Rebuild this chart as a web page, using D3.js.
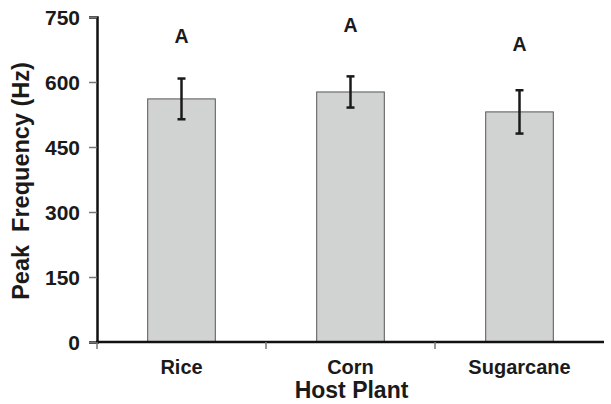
<!DOCTYPE html>
<meta charset="utf-8">
<style>
    body { margin: 0; background: #fff; }
    text { font-family: "Liberation Sans", Arial, sans-serif; font-weight: bold; fill: #1a1a1a; }
</style>
<body>
<script src="https://d3js.org/d3.v7.min.js"></script>
<script>
    // data
    const plants = ["Rice", "Corn", "Sugarcane"];
    const meanFreq = [561, 577, 531];
    const errFreq = [47, 36, 50];
    const letters = ["A", "A", "A"];
    const letterAt = [690, 716, 672];   // baseline of the group letter, in Hz
    const yTicks = [0, 150, 300, 450, 600, 750];

    const width = 611, height = 404;
    const margin = {top: 17, right: 7, bottom: 62, left: 97};

    const svg = d3.select("body").append("svg")
        .attr("width", width)
        .attr("height", height);

    const x = d3.scaleBand()
        .domain(plants)
        .range([margin.left, width - margin.right])
        .paddingInner(0.6)
        .paddingOuter(0.3);

    const y = d3.scaleLinear()
        .domain([0, 750])
        .range([height - margin.bottom, margin.top]);

    // bars
    svg.selectAll("rect.bar")
        .data(plants)
        .enter().append("rect")
        .attr("class", "bar")
        .attr("x", d => x(d))
        .attr("y", (d, i) => y(meanFreq[i]))
        .attr("width", x.bandwidth())
        .attr("height", (d, i) => y(0) - y(meanFreq[i]))
        .attr("fill", "#d1d2d2")
        .attr("stroke", "#555")
        .attr("stroke-width", 1);

    // error bars
    const err = svg.selectAll("g.err")
        .data(plants)
        .enter().append("g")
        .attr("class", "err")
        .attr("stroke", "#1a1a1a")
        .attr("stroke-width", 2.5);

    const cx = d => x(d) + x.bandwidth() / 2;
    err.append("line")
        .attr("x1", cx).attr("x2", cx)
        .attr("y1", (d, i) => y(meanFreq[i] + errFreq[i]))
        .attr("y2", (d, i) => y(meanFreq[i] - errFreq[i]));
    err.append("line")
        .attr("x1", d => cx(d) - 4).attr("x2", d => cx(d) + 4)
        .attr("y1", (d, i) => y(meanFreq[i] + errFreq[i]))
        .attr("y2", (d, i) => y(meanFreq[i] + errFreq[i]));
    err.append("line")
        .attr("x1", d => cx(d) - 4).attr("x2", d => cx(d) + 4)
        .attr("y1", (d, i) => y(meanFreq[i] - errFreq[i]))
        .attr("y2", (d, i) => y(meanFreq[i] - errFreq[i]));

    // group letters
    svg.selectAll("text.letter")
        .data(plants)
        .enter().append("text")
        .attr("class", "letter")
        .attr("x", cx)
        .attr("y", (d, i) => y(letterAt[i]))
        .attr("text-anchor", "middle")
        .style("font-size", "19.5px")
        .text((d, i) => letters[i]);

    // y axis
    const gY = svg.append("g")
        .attr("transform", `translate(${margin.left},0)`)
        .call(d3.axisLeft(y).tickValues(yTicks).tickSize(8).tickPadding(9));
    gY.select(".domain").attr("stroke", "#111").attr("stroke-width", 2.5);
    gY.selectAll(".tick line").attr("stroke", "#777").attr("stroke-width", 1.5);
    gY.selectAll(".tick text")
        .attr("dy", "0.36em")
        .style("font-size", "21px")
        .style("font-family", "'Liberation Sans', Arial, sans-serif")
        .style("font-weight", "bold")
        .attr("fill", "#1a1a1a");

    // x axis, ticks at band edges
    const edges = plants.map(d => x(d) - x.step() * x.paddingInner() / 2);
    const gX = svg.append("g")
        .attr("transform", `translate(0,${y(0)})`);
    gX.append("line")
        .attr("x1", margin.left - 1).attr("x2", width - margin.right)
        .attr("stroke", "#111").attr("stroke-width", 2.5);
    gX.selectAll("line.tk")
        .data(edges)
        .enter().append("line")
        .attr("class", "tk")
        .attr("x1", d => d).attr("x2", d => d)
        .attr("y1", 0).attr("y2", 7)
        .attr("stroke", "#777").attr("stroke-width", 1.5);
    gX.selectAll("text")
        .data(plants)
        .enter().append("text")
        .attr("x", cx)
        .attr("y", 32)
        .attr("text-anchor", "middle")
        .style("font-size", "20px")
        .text(d => d);

    // axis titles
    svg.append("text")
        .attr("x", (margin.left + width - margin.right) / 2 + 1)
        .attr("y", 398)
        .attr("text-anchor", "middle")
        .style("font-size", "23px")
        .text("Host Plant");

    svg.append("text")
        .attr("transform", "translate(29,181) rotate(-90)")
        .attr("text-anchor", "middle")
        .attr("xml:space", "preserve")
        .style("white-space", "pre")
        .style("font-size", "23.5px")
        .text("Peak  Frequency (Hz)");
</script>
</body>
